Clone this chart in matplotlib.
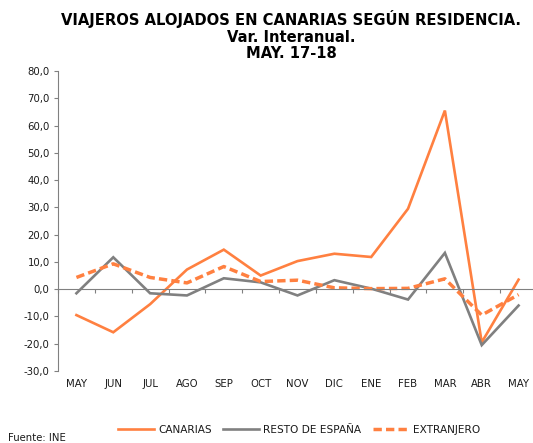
import matplotlib
matplotlib.use("Agg")
import matplotlib.pyplot as plt
from matplotlib.lines import Line2D

meses = ["MAY", "JUN", "JUL", "AGO", "SEP", "OCT", "NOV", "DIC", "ENE", "FEB", "MAR", "ABR", "MAY"]
canarias = [-9.5, -15.8, -5.5, 7.2, 14.5, 5.0, 10.3, 13.0, 11.8, 29.5, 65.5, -19.5, 3.5]
resto_espana = [-1.5, 11.7, -1.5, -2.3, 4.0, 2.5, -2.3, 3.3, 0.2, -3.8, 13.3, -20.5, -6.0]
extranjero = [4.3, 9.3, 4.3, 2.3, 8.3, 2.8, 3.3, 0.5, 0.2, 0.3, 3.8, -9.5, -2.0]
y_ticks = [-30, -20, -10, 0, 10, 20, 30, 40, 50, 60, 70, 80]

naranja = "#FF8040"
gris = "#808080"
texto = "#1a1a1a"

plt.rcParams["font.family"] = ["DejaVu Sans"]

fig = plt.figure(figsize=(5.33, 4.43), dpi=100)
ax = fig.add_axes([58 / 533, 1 - 371 / 443, (537 - 58) / 533, 300 / 443])

x = list(range(len(meses)))
ax.plot(x, canarias, color=naranja, lw=1.9, solid_joinstyle="miter")
ax.plot(x, resto_espana, color=gris, lw=1.9, solid_joinstyle="miter")
ax.plot(x, extranjero, color=naranja, lw=2.5, dashes=(2.4, 1.2))

ax.set_xlim(-0.5, len(meses) - 0.5)
ax.set_ylim(-30, 80)
ax.set_yticks(y_ticks)
ax.set_yticklabels([f"{v:.1f}".replace(".", ",") for v in y_ticks], fontsize=7.3, color=texto)

# eje x sobre el cero, marcas entre categorias
ax.spines["bottom"].set_position(("data", 0))
ax.spines["bottom"].set_color(gris)
ax.spines["left"].set_color(gris)
ax.spines["top"].set_visible(False)
ax.spines["right"].set_visible(False)
ax.set_xticks([i - 0.5 for i in range(len(meses) + 1)])
ax.set_xticklabels([])
ax.tick_params(axis="x", direction="out", length=3, color=gris)
ax.tick_params(axis="y", direction="out", length=3, color=gris, pad=3)

for i, m in enumerate(meses):
    ax.text(i, -0.043, m, transform=ax.get_xaxis_transform(), ha="center", va="center",
            fontsize=7.3, color=texto)

for yy, t in [(19, "VIAJEROS ALOJADOS EN CANARIAS SEGÚN RESIDENCIA."),
              (37, "Var. Interanual."),
              (54, "MAY. 17-18")]:
    fig.text(291 / 533, 1 - yy / 443, t, ha="center", va="center", fontsize=10.6,
             fontweight="bold", color="black")

handles = [
    Line2D([], [], color=naranja, lw=1.9),
    Line2D([], [], color=gris, lw=1.9),
    Line2D([], [], color=naranja, lw=2.5, dashes=(2.4, 1.2)),
]
fig.legend(handles, ["CANARIAS", "RESTO DE ESPAÑA", "EXTRANJERO"], loc="center",
           bbox_to_anchor=(299 / 533, 1 - 430 / 443), ncol=3, frameon=False,
           fontsize=7.6, handlelength=3.4, columnspacing=1.1, handletextpad=0.4,
           labelcolor=texto)

fig.text(8 / 533, 1 - 438 / 443, "Fuente: INE", ha="left", va="center", fontsize=7.3, color=texto)

fig.savefig("out.png", dpi=100)
